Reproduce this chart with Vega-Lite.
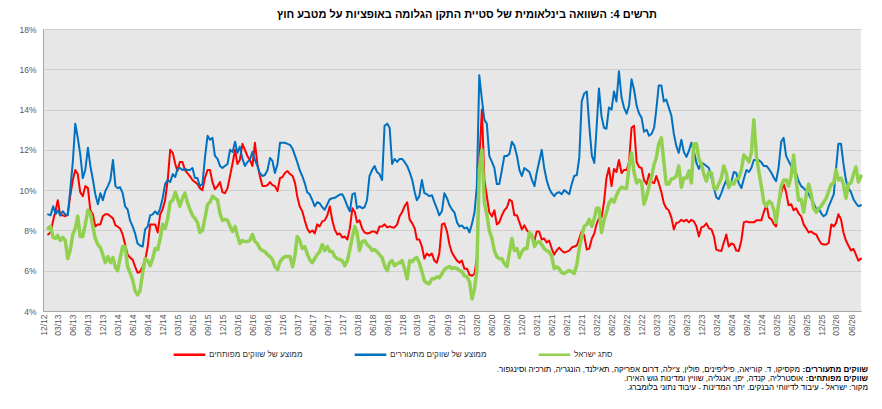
{
"$schema":"https://vega.github.io/schema/vega-lite/v6.json",
"width":818,"height":282,
"autosize":{"type":"none"},
"padding":{"left":43,"top":29,"right":21,"bottom":98},
"background":"white",
"title":{"text":"תרשים 4: השוואה בינלאומית של סטיית התקן הגלומה באופציות על מטבע חוץ","anchor":"middle","dx":15,"offset":5,"font":"Liberation Sans","fontSize":11,"fontWeight":"bold","color":"#000000"},
"config":{
"view":{"fill":"#E7E7E7","stroke":null},
"font":"Liberation Sans",
"axis":{"labelFont":"Liberation Sans","labelColor":"#595959","labelFontSize":8.5,"ticks":false,"domainColor":"#A6A6A6","gridColor":"#D0D0D0"}
},
"datasets":{
"dev":[
{"d":"2013-01-01","v":7.8},{"d":"2013-01-16","v":7.9},{"d":"2013-02-01","v":8.5},{"d":"2013-02-16","v":9.0},{"d":"2013-03-01","v":9.5},{"d":"2013-03-16","v":8.75},{"d":"2013-04-01","v":8.75},{"d":"2013-04-16","v":8.7},{"d":"2013-05-01","v":8.8},{"d":"2013-05-16","v":9.7},{"d":"2013-06-01","v":10.5},{"d":"2013-06-16","v":11.0},{"d":"2013-07-01","v":10.8},{"d":"2013-07-16","v":9.9},{"d":"2013-08-01","v":9.7},{"d":"2013-08-16","v":10.2},{"d":"2013-09-01","v":10.1},{"d":"2013-09-16","v":9.0},{"d":"2013-10-01","v":8.8},{"d":"2013-10-16","v":8.2},{"d":"2013-11-01","v":8.3},{"d":"2013-11-16","v":8.3},{"d":"2013-12-01","v":8.7},{"d":"2013-12-16","v":8.8},
{"d":"2014-01-01","v":8.8},{"d":"2014-01-16","v":8.7},{"d":"2014-02-01","v":8.6},{"d":"2014-02-16","v":8.25},{"d":"2014-03-01","v":8.2},{"d":"2014-03-16","v":8.1},{"d":"2014-04-01","v":7.8},{"d":"2014-04-16","v":7.3},{"d":"2014-05-01","v":6.8},{"d":"2014-05-16","v":6.65},{"d":"2014-06-01","v":6.55},{"d":"2014-06-16","v":6.2},{"d":"2014-07-01","v":5.9},{"d":"2014-07-16","v":5.95},{"d":"2014-08-01","v":6.2},{"d":"2014-08-16","v":6.5},{"d":"2014-09-01","v":7.2},{"d":"2014-09-16","v":8.3},{"d":"2014-10-01","v":8.3},{"d":"2014-10-16","v":8.3},{"d":"2014-11-01","v":7.9},{"d":"2014-11-16","v":8.8},{"d":"2014-12-01","v":9.05},{"d":"2014-12-16","v":9.5},
{"d":"2015-01-01","v":10.5},{"d":"2015-01-16","v":12.0},{"d":"2015-02-01","v":11.85},{"d":"2015-02-16","v":11.3},{"d":"2015-03-01","v":10.95},{"d":"2015-03-16","v":11.4},{"d":"2015-04-01","v":11.4},{"d":"2015-04-16","v":11.0},{"d":"2015-05-01","v":10.85},{"d":"2015-05-16","v":10.7},{"d":"2015-06-01","v":10.5},{"d":"2015-06-16","v":10.4},{"d":"2015-07-01","v":10.3},{"d":"2015-07-16","v":10.1},{"d":"2015-08-01","v":10.0},{"d":"2015-08-16","v":10.6},{"d":"2015-09-01","v":11.0},{"d":"2015-09-16","v":11.0},{"d":"2015-10-01","v":10.4},{"d":"2015-10-16","v":10.05},{"d":"2015-11-01","v":10.2},{"d":"2015-11-16","v":10.4},{"d":"2015-12-01","v":9.9},{"d":"2015-12-16","v":9.85},
{"d":"2016-01-01","v":10.1},{"d":"2016-01-16","v":10.7},{"d":"2016-02-01","v":11.35},{"d":"2016-02-16","v":12.0},{"d":"2016-03-01","v":11.3},{"d":"2016-03-16","v":11.5},{"d":"2016-04-01","v":12.3},{"d":"2016-04-16","v":12.0},{"d":"2016-05-01","v":11.7},{"d":"2016-05-16","v":11.5},{"d":"2016-06-01","v":11.2},{"d":"2016-06-16","v":12.35},{"d":"2016-07-01","v":11.3},{"d":"2016-07-16","v":10.7},{"d":"2016-08-01","v":10.2},{"d":"2016-08-16","v":10.2},{"d":"2016-09-01","v":10.25},{"d":"2016-09-16","v":10.4},{"d":"2016-10-01","v":10.25},{"d":"2016-10-16","v":10.2},{"d":"2016-11-01","v":9.95},{"d":"2016-11-16","v":10.6},{"d":"2016-12-01","v":10.65},{"d":"2016-12-16","v":10.85},
{"d":"2017-01-01","v":10.95},{"d":"2017-01-16","v":10.8},{"d":"2017-02-01","v":10.7},{"d":"2017-02-16","v":10.35},{"d":"2017-03-01","v":9.7},{"d":"2017-03-16","v":9.2},{"d":"2017-04-01","v":8.95},{"d":"2017-04-16","v":8.5},{"d":"2017-05-01","v":8.1},{"d":"2017-05-16","v":7.9},{"d":"2017-06-01","v":8.0},{"d":"2017-06-16","v":7.85},{"d":"2017-07-01","v":8.3},{"d":"2017-07-16","v":8.2},{"d":"2017-08-01","v":8.45},{"d":"2017-08-16","v":8.5},{"d":"2017-09-01","v":8.75},{"d":"2017-09-16","v":9.2},{"d":"2017-10-01","v":8.5},{"d":"2017-10-16","v":8.05},{"d":"2017-11-01","v":7.8},{"d":"2017-11-16","v":7.85},{"d":"2017-12-01","v":7.65},{"d":"2017-12-16","v":7.7},
{"d":"2018-01-01","v":7.55},{"d":"2018-01-16","v":8.1},{"d":"2018-02-01","v":9.1},{"d":"2018-02-16","v":8.9},{"d":"2018-03-01","v":8.4},{"d":"2018-03-16","v":8.5},{"d":"2018-04-01","v":8.1},{"d":"2018-04-16","v":7.9},{"d":"2018-05-01","v":7.85},{"d":"2018-05-16","v":7.87},{"d":"2018-06-01","v":7.95},{"d":"2018-06-16","v":7.95},{"d":"2018-07-01","v":7.85},{"d":"2018-07-16","v":8.2},{"d":"2018-08-01","v":8.2},{"d":"2018-08-16","v":8.3},{"d":"2018-09-01","v":8.15},{"d":"2018-09-16","v":8.2},{"d":"2018-10-01","v":8.15},{"d":"2018-10-16","v":8.15},{"d":"2018-11-01","v":8.3},{"d":"2018-11-16","v":8.7},{"d":"2018-12-01","v":8.9},{"d":"2018-12-16","v":9.2},
{"d":"2019-01-01","v":9.4},{"d":"2019-01-16","v":8.55},{"d":"2019-02-01","v":8.35},{"d":"2019-02-16","v":8.1},{"d":"2019-03-01","v":7.55},{"d":"2019-03-16","v":7.55},{"d":"2019-04-01","v":7.2},{"d":"2019-04-16","v":6.6},{"d":"2019-05-01","v":6.85},{"d":"2019-05-16","v":6.75},{"d":"2019-06-01","v":6.85},{"d":"2019-06-16","v":6.5},{"d":"2019-07-01","v":6.4},{"d":"2019-07-16","v":6.85},{"d":"2019-08-01","v":8.3},{"d":"2019-08-16","v":8.35},{"d":"2019-09-01","v":7.95},{"d":"2019-09-16","v":7.3},{"d":"2019-10-01","v":6.9},{"d":"2019-10-16","v":6.7},{"d":"2019-11-01","v":6.5},{"d":"2019-11-16","v":6.4},{"d":"2019-12-01","v":6.5},{"d":"2019-12-16","v":6.1},
{"d":"2020-01-01","v":6.1},{"d":"2020-01-16","v":5.8},{"d":"2020-02-01","v":5.75},{"d":"2020-02-16","v":5.85},{"d":"2020-03-01","v":6.6},{"d":"2020-03-16","v":11.5},{"d":"2020-04-01","v":14.0},{"d":"2020-04-16","v":10.5},{"d":"2020-05-01","v":9.7},{"d":"2020-05-16","v":8.9},{"d":"2020-06-01","v":8.7},{"d":"2020-06-16","v":9.0},{"d":"2020-07-01","v":8.3},{"d":"2020-07-16","v":8.4},{"d":"2020-08-01","v":8.75},{"d":"2020-08-16","v":9.0},{"d":"2020-09-01","v":9.15},{"d":"2020-09-16","v":9.53},{"d":"2020-10-01","v":9.45},{"d":"2020-10-16","v":8.75},{"d":"2020-11-01","v":8.75},{"d":"2020-11-16","v":8.4},{"d":"2020-12-01","v":8.05},{"d":"2020-12-16","v":8.25},
{"d":"2021-01-01","v":8.0},{"d":"2021-01-16","v":7.87},{"d":"2021-02-01","v":7.6},{"d":"2021-02-16","v":7.5},{"d":"2021-03-01","v":7.95},{"d":"2021-03-16","v":7.95},{"d":"2021-04-01","v":7.55},{"d":"2021-04-16","v":7.6},{"d":"2021-05-01","v":7.4},{"d":"2021-05-16","v":7.5},{"d":"2021-06-01","v":7.1},{"d":"2021-06-16","v":6.8},{"d":"2021-07-01","v":7.0},{"d":"2021-07-16","v":7.15},{"d":"2021-08-01","v":7.0},{"d":"2021-08-16","v":6.9},{"d":"2021-09-01","v":6.95},{"d":"2021-09-16","v":7.0},{"d":"2021-10-01","v":7.15},{"d":"2021-10-16","v":7.2},{"d":"2021-11-01","v":7.25},{"d":"2021-11-16","v":7.6},{"d":"2021-12-01","v":7.95},{"d":"2021-12-16","v":7.75},
{"d":"2022-01-01","v":7.05},{"d":"2022-01-16","v":7.1},{"d":"2022-02-01","v":7.6},{"d":"2022-02-16","v":7.85},{"d":"2022-03-01","v":8.3},{"d":"2022-03-16","v":8.6},{"d":"2022-04-01","v":8.65},{"d":"2022-04-16","v":9.4},{"d":"2022-05-01","v":10.6},{"d":"2022-05-16","v":11.1},{"d":"2022-06-01","v":10.2},{"d":"2022-06-16","v":11.05},{"d":"2022-07-01","v":10.9},{"d":"2022-07-16","v":11.5},{"d":"2022-08-01","v":10.85},{"d":"2022-08-16","v":11.0},{"d":"2022-09-01","v":11.0},{"d":"2022-09-16","v":11.4},{"d":"2022-10-01","v":13.1},{"d":"2022-10-16","v":13.2},{"d":"2022-11-01","v":11.4},{"d":"2022-11-16","v":11.15},{"d":"2022-12-01","v":11.1},{"d":"2022-12-16","v":10.5},
{"d":"2023-01-01","v":10.3},{"d":"2023-01-16","v":10.8},{"d":"2023-02-01","v":10.4},{"d":"2023-02-16","v":10.35},{"d":"2023-03-01","v":10.7},{"d":"2023-03-16","v":10.35},{"d":"2023-04-01","v":9.9},{"d":"2023-04-16","v":9.35},{"d":"2023-05-01","v":9.1},{"d":"2023-05-16","v":9.0},{"d":"2023-06-01","v":8.65},{"d":"2023-06-16","v":8.05},{"d":"2023-07-01","v":8.37},{"d":"2023-07-16","v":8.4},{"d":"2023-08-01","v":8.53},{"d":"2023-08-16","v":8.45},{"d":"2023-09-01","v":8.53},{"d":"2023-09-16","v":8.4},{"d":"2023-10-01","v":8.53},{"d":"2023-10-16","v":8.45},{"d":"2023-11-01","v":8.2},{"d":"2023-11-16","v":7.7},{"d":"2023-12-01","v":8.15},{"d":"2023-12-16","v":8.2},
{"d":"2024-01-01","v":8.35},{"d":"2024-01-16","v":8.1},{"d":"2024-02-01","v":8.05},{"d":"2024-02-16","v":7.7},{"d":"2024-03-01","v":7.05},{"d":"2024-03-16","v":7.0},{"d":"2024-04-01","v":6.98},{"d":"2024-04-16","v":7.4},{"d":"2024-05-01","v":7.8},{"d":"2024-05-16","v":7.2},{"d":"2024-06-01","v":7.35},{"d":"2024-06-16","v":7.3},{"d":"2024-07-01","v":7.0},{"d":"2024-07-16","v":6.98},{"d":"2024-08-01","v":7.5},{"d":"2024-08-16","v":8.4},{"d":"2024-09-01","v":8.45},{"d":"2024-09-16","v":8.4},{"d":"2024-10-01","v":8.4},{"d":"2024-10-16","v":8.4},{"d":"2024-11-01","v":8.5},{"d":"2024-11-16","v":8.5},{"d":"2024-12-01","v":8.5},{"d":"2024-12-16","v":8.9},
{"d":"2025-01-01","v":9.3},{"d":"2025-01-16","v":8.65},{"d":"2025-02-01","v":8.55},{"d":"2025-02-16","v":8.3},{"d":"2025-03-01","v":8.2},{"d":"2025-03-16","v":9.3},{"d":"2025-04-01","v":9.85},{"d":"2025-04-16","v":10.3},{"d":"2025-05-01","v":9.9},{"d":"2025-05-16","v":9.25},{"d":"2025-06-01","v":9.3},{"d":"2025-06-16","v":9.0},{"d":"2025-07-01","v":9.1},{"d":"2025-07-16","v":8.85},{"d":"2025-08-01","v":8.7},{"d":"2025-08-16","v":8.3},{"d":"2025-09-01","v":8.1},{"d":"2025-09-16","v":7.9},{"d":"2025-10-01","v":7.95},{"d":"2025-10-16","v":7.85},{"d":"2025-11-01","v":7.8},{"d":"2025-11-16","v":7.55},{"d":"2025-12-01","v":7.35},{"d":"2025-12-16","v":7.3},
{"d":"2026-01-01","v":7.3},{"d":"2026-01-16","v":7.38},{"d":"2026-02-01","v":8.3},{"d":"2026-02-16","v":8.2},{"d":"2026-03-01","v":8.35},{"d":"2026-03-16","v":8.8},{"d":"2026-04-01","v":8.55},{"d":"2026-04-16","v":7.9},{"d":"2026-05-01","v":7.5},{"d":"2026-05-16","v":7.25},{"d":"2026-06-01","v":7.0},{"d":"2026-06-16","v":7.08},{"d":"2026-07-01","v":6.8},{"d":"2026-07-16","v":6.5},{"d":"2026-08-01","v":6.6}
],
"emg":[
{"d":"2013-01-01","v":8.8},{"d":"2013-01-16","v":8.75},{"d":"2013-02-01","v":9.2},{"d":"2013-02-16","v":8.8},{"d":"2013-03-01","v":9.0},{"d":"2013-03-16","v":8.75},{"d":"2013-04-01","v":8.95},{"d":"2013-04-16","v":8.8},{"d":"2013-05-01","v":8.75},{"d":"2013-05-16","v":10.0},{"d":"2013-06-01","v":11.4},{"d":"2013-06-16","v":13.3},{"d":"2013-07-01","v":12.6},{"d":"2013-07-16","v":11.8},{"d":"2013-08-01","v":10.6},{"d":"2013-08-16","v":11.0},{"d":"2013-09-01","v":12.1},{"d":"2013-09-16","v":11.2},{"d":"2013-10-01","v":10.55},{"d":"2013-10-16","v":9.8},{"d":"2013-11-01","v":9.3},{"d":"2013-11-16","v":9.85},{"d":"2013-12-01","v":9.5},{"d":"2013-12-16","v":9.95},
{"d":"2014-01-01","v":10.2},{"d":"2014-01-16","v":10.5},{"d":"2014-02-01","v":11.5},{"d":"2014-02-16","v":10.2},{"d":"2014-03-01","v":10.1},{"d":"2014-03-16","v":10.15},{"d":"2014-04-01","v":9.85},{"d":"2014-04-16","v":9.2},{"d":"2014-05-01","v":9.05},{"d":"2014-05-16","v":8.5},{"d":"2014-06-01","v":8.2},{"d":"2014-06-16","v":7.85},{"d":"2014-07-01","v":7.35},{"d":"2014-07-16","v":7.25},{"d":"2014-08-01","v":7.2},{"d":"2014-08-16","v":8.05},{"d":"2014-09-01","v":8.2},{"d":"2014-09-16","v":8.75},{"d":"2014-10-01","v":8.8},{"d":"2014-10-16","v":8.95},{"d":"2014-11-01","v":8.8},{"d":"2014-11-16","v":9.1},{"d":"2014-12-01","v":9.6},{"d":"2014-12-16","v":10.3},
{"d":"2015-01-01","v":10.5},{"d":"2015-01-16","v":10.4},{"d":"2015-02-01","v":10.8},{"d":"2015-02-16","v":10.65},{"d":"2015-03-01","v":11.05},{"d":"2015-03-16","v":11.1},{"d":"2015-04-01","v":11.0},{"d":"2015-04-16","v":11.05},{"d":"2015-05-01","v":11.0},{"d":"2015-05-16","v":11.0},{"d":"2015-06-01","v":11.1},{"d":"2015-06-16","v":10.6},{"d":"2015-07-01","v":10.6},{"d":"2015-07-16","v":10.2},{"d":"2015-08-01","v":10.3},{"d":"2015-08-16","v":11.6},{"d":"2015-09-01","v":12.7},{"d":"2015-09-16","v":12.5},{"d":"2015-10-01","v":12.6},{"d":"2015-10-16","v":11.7},{"d":"2015-11-01","v":11.55},{"d":"2015-11-16","v":11.2},{"d":"2015-12-01","v":11.1},{"d":"2015-12-16","v":11.2},
{"d":"2016-01-01","v":11.3},{"d":"2016-01-16","v":12.0},{"d":"2016-02-01","v":11.9},{"d":"2016-02-16","v":12.4},{"d":"2016-03-01","v":11.85},{"d":"2016-03-16","v":12.15},{"d":"2016-04-01","v":11.55},{"d":"2016-04-16","v":11.2},{"d":"2016-05-01","v":11.4},{"d":"2016-05-16","v":11.5},{"d":"2016-06-01","v":11.9},{"d":"2016-06-16","v":11.5},{"d":"2016-07-01","v":11.2},{"d":"2016-07-16","v":10.85},{"d":"2016-08-01","v":10.7},{"d":"2016-08-16","v":10.75},{"d":"2016-09-01","v":11.0},{"d":"2016-09-16","v":11.6},{"d":"2016-10-01","v":11.45},{"d":"2016-10-16","v":10.85},{"d":"2016-11-01","v":11.3},{"d":"2016-11-16","v":12.35},{"d":"2016-12-01","v":12.35},{"d":"2016-12-16","v":12.35},
{"d":"2017-01-01","v":12.3},{"d":"2017-01-16","v":12.25},{"d":"2017-02-01","v":12.05},{"d":"2017-02-16","v":11.7},{"d":"2017-03-01","v":11.4},{"d":"2017-03-16","v":11.0},{"d":"2017-04-01","v":10.7},{"d":"2017-04-16","v":10.35},{"d":"2017-05-01","v":9.9},{"d":"2017-05-16","v":9.8},{"d":"2017-06-01","v":9.5},{"d":"2017-06-16","v":9.2},{"d":"2017-07-01","v":9.4},{"d":"2017-07-16","v":9.35},{"d":"2017-08-01","v":9.15},{"d":"2017-08-16","v":9.03},{"d":"2017-09-01","v":9.3},{"d":"2017-09-16","v":9.55},{"d":"2017-10-01","v":9.6},{"d":"2017-10-16","v":9.62},{"d":"2017-11-01","v":9.7},{"d":"2017-11-16","v":9.78},{"d":"2017-12-01","v":9.8},{"d":"2017-12-16","v":9.55},
{"d":"2018-01-01","v":9.2},{"d":"2018-01-16","v":8.95},{"d":"2018-02-01","v":9.8},{"d":"2018-02-16","v":9.85},{"d":"2018-03-01","v":9.1},{"d":"2018-03-16","v":9.2},{"d":"2018-04-01","v":9.1},{"d":"2018-04-16","v":9.15},{"d":"2018-05-01","v":9.5},{"d":"2018-05-16","v":10.7},{"d":"2018-06-01","v":11.0},{"d":"2018-06-16","v":11.2},{"d":"2018-07-01","v":10.9},{"d":"2018-07-16","v":10.8},{"d":"2018-08-01","v":10.5},{"d":"2018-08-16","v":13.2},{"d":"2018-09-01","v":13.3},{"d":"2018-09-16","v":13.1},{"d":"2018-10-01","v":11.3},{"d":"2018-10-16","v":11.55},{"d":"2018-11-01","v":11.4},{"d":"2018-11-16","v":11.55},{"d":"2018-12-01","v":11.55},{"d":"2018-12-16","v":11.4},
{"d":"2019-01-01","v":11.2},{"d":"2019-01-16","v":10.9},{"d":"2019-02-01","v":10.5},{"d":"2019-02-16","v":9.9},{"d":"2019-03-01","v":9.5},{"d":"2019-03-16","v":9.7},{"d":"2019-04-01","v":10.5},{"d":"2019-04-16","v":9.85},{"d":"2019-05-01","v":9.8},{"d":"2019-05-16","v":9.7},{"d":"2019-06-01","v":9.75},{"d":"2019-06-16","v":9.4},{"d":"2019-07-01","v":9.1},{"d":"2019-07-16","v":8.75},{"d":"2019-08-01","v":8.95},{"d":"2019-08-16","v":9.85},{"d":"2019-09-01","v":9.6},{"d":"2019-09-16","v":9.25},{"d":"2019-10-01","v":9.05},{"d":"2019-10-16","v":8.9},{"d":"2019-11-01","v":8.4},{"d":"2019-11-16","v":8.2},{"d":"2019-12-01","v":8.25},{"d":"2019-12-16","v":8.1},
{"d":"2020-01-01","v":8.15},{"d":"2020-01-16","v":7.9},{"d":"2020-02-01","v":8.35},{"d":"2020-02-16","v":8.9},{"d":"2020-03-01","v":10.2},{"d":"2020-03-16","v":15.7},{"d":"2020-04-01","v":14.5},{"d":"2020-04-16","v":13.5},{"d":"2020-05-01","v":13.3},{"d":"2020-05-16","v":11.7},{"d":"2020-06-01","v":11.4},{"d":"2020-06-16","v":11.1},{"d":"2020-07-01","v":10.3},{"d":"2020-07-16","v":10.3},{"d":"2020-08-01","v":11.0},{"d":"2020-08-16","v":11.7},{"d":"2020-09-01","v":11.7},{"d":"2020-09-16","v":11.8},{"d":"2020-10-01","v":12.4},{"d":"2020-10-16","v":12.2},{"d":"2020-11-01","v":11.7},{"d":"2020-11-16","v":11.0},{"d":"2020-12-01","v":10.7},{"d":"2020-12-16","v":11.1},
{"d":"2021-01-01","v":11.0},{"d":"2021-01-16","v":10.9},{"d":"2021-02-01","v":10.5},{"d":"2021-02-16","v":10.2},{"d":"2021-03-01","v":10.85},{"d":"2021-03-16","v":11.4},{"d":"2021-04-01","v":12.0},{"d":"2021-04-16","v":11.1},{"d":"2021-05-01","v":10.5},{"d":"2021-05-16","v":10.1},{"d":"2021-06-01","v":9.85},{"d":"2021-06-16","v":9.7},{"d":"2021-07-01","v":9.85},{"d":"2021-07-16","v":9.9},{"d":"2021-08-01","v":9.8},{"d":"2021-08-16","v":10.0},{"d":"2021-09-01","v":9.9},{"d":"2021-09-16","v":9.8},{"d":"2021-10-01","v":10.3},{"d":"2021-10-16","v":10.7},{"d":"2021-11-01","v":10.75},{"d":"2021-11-16","v":11.6},{"d":"2021-12-01","v":14.4},{"d":"2021-12-16","v":14.8},
{"d":"2022-01-01","v":14.9},{"d":"2022-01-16","v":13.2},{"d":"2022-02-01","v":11.7},{"d":"2022-02-16","v":11.35},{"d":"2022-03-01","v":13.0},{"d":"2022-03-16","v":15.05},{"d":"2022-04-01","v":13.65},{"d":"2022-04-16","v":13.1},{"d":"2022-05-01","v":13.05},{"d":"2022-05-16","v":14.1},{"d":"2022-06-01","v":14.0},{"d":"2022-06-16","v":14.9},{"d":"2022-07-01","v":14.4},{"d":"2022-07-16","v":15.9},{"d":"2022-08-01","v":14.6},{"d":"2022-08-16","v":14.1},{"d":"2022-09-01","v":13.8},{"d":"2022-09-16","v":14.2},{"d":"2022-10-01","v":15.5},{"d":"2022-10-16","v":15.0},{"d":"2022-11-01","v":14.2},{"d":"2022-11-16","v":13.8},{"d":"2022-12-01","v":13.6},{"d":"2022-12-16","v":12.9},
{"d":"2023-01-01","v":13.0},{"d":"2023-01-16","v":12.7},{"d":"2023-02-01","v":12.8},{"d":"2023-02-16","v":13.1},{"d":"2023-03-01","v":14.0},{"d":"2023-03-16","v":15.2},{"d":"2023-04-01","v":15.2},{"d":"2023-04-16","v":14.4},{"d":"2023-05-01","v":14.5},{"d":"2023-05-16","v":14.1},{"d":"2023-06-01","v":13.7},{"d":"2023-06-16","v":12.8},{"d":"2023-07-01","v":12.2},{"d":"2023-07-16","v":11.85},{"d":"2023-08-01","v":12.5},{"d":"2023-08-16","v":11.9},{"d":"2023-09-01","v":11.65},{"d":"2023-09-16","v":11.95},{"d":"2023-10-01","v":12.35},{"d":"2023-10-16","v":11.95},{"d":"2023-11-01","v":11.35},{"d":"2023-11-16","v":11.05},{"d":"2023-12-01","v":11.35},{"d":"2023-12-16","v":11.3},
{"d":"2024-01-01","v":11.2},{"d":"2024-01-16","v":11.1},{"d":"2024-02-01","v":10.6},{"d":"2024-02-16","v":10.1},{"d":"2024-03-01","v":9.65},{"d":"2024-03-16","v":9.55},{"d":"2024-04-01","v":9.85},{"d":"2024-04-16","v":10.2},{"d":"2024-05-01","v":10.5},{"d":"2024-05-16","v":10.1},{"d":"2024-06-01","v":10.4},{"d":"2024-06-16","v":10.9},{"d":"2024-07-01","v":10.85},{"d":"2024-07-16","v":10.35},{"d":"2024-08-01","v":10.1},{"d":"2024-08-16","v":10.55},{"d":"2024-09-01","v":11.0},{"d":"2024-09-16","v":10.9},{"d":"2024-10-01","v":11.1},{"d":"2024-10-16","v":11.5},{"d":"2024-11-01","v":11.5},{"d":"2024-11-16","v":11.48},{"d":"2024-12-01","v":11.38},{"d":"2024-12-16","v":11.2},
{"d":"2025-01-01","v":11.2},{"d":"2025-01-16","v":11.05},{"d":"2025-02-01","v":10.85},{"d":"2025-02-16","v":10.6},{"d":"2025-03-01","v":10.45},{"d":"2025-03-16","v":11.1},{"d":"2025-04-01","v":12.4},{"d":"2025-04-16","v":12.6},{"d":"2025-05-01","v":11.7},{"d":"2025-05-16","v":11.45},{"d":"2025-06-01","v":11.2},{"d":"2025-06-16","v":10.9},{"d":"2025-07-01","v":10.85},{"d":"2025-07-16","v":10.45},{"d":"2025-08-01","v":10.2},{"d":"2025-08-16","v":10.1},{"d":"2025-09-01","v":9.95},{"d":"2025-09-16","v":9.8},{"d":"2025-10-01","v":9.55},{"d":"2025-10-16","v":9.35},{"d":"2025-11-01","v":9.05},{"d":"2025-11-16","v":9.1},{"d":"2025-12-01","v":8.85},{"d":"2025-12-16","v":8.7},
{"d":"2026-01-01","v":8.8},{"d":"2026-01-16","v":9.2},{"d":"2026-02-01","v":9.5},{"d":"2026-02-16","v":9.8},{"d":"2026-03-01","v":11.0},{"d":"2026-03-16","v":12.3},{"d":"2026-04-01","v":12.3},{"d":"2026-04-16","v":11.3},{"d":"2026-05-01","v":10.5},{"d":"2026-05-16","v":10.1},{"d":"2026-06-01","v":9.9},{"d":"2026-06-16","v":9.55},{"d":"2026-07-01","v":9.36},{"d":"2026-07-16","v":9.2},{"d":"2026-08-01","v":9.25}
],
"isr":[
{"d":"2013-01-01","v":8.1},{"d":"2013-01-16","v":8.2},{"d":"2013-02-01","v":7.65},{"d":"2013-02-16","v":7.6},{"d":"2013-03-01","v":7.75},{"d":"2013-03-16","v":7.5},{"d":"2013-04-01","v":7.65},{"d":"2013-04-16","v":7.5},{"d":"2013-05-01","v":6.6},{"d":"2013-05-16","v":7.0},{"d":"2013-06-01","v":7.8},{"d":"2013-06-16","v":8.1},{"d":"2013-07-01","v":8.7},{"d":"2013-07-16","v":7.7},{"d":"2013-08-01","v":7.7},{"d":"2013-08-16","v":8.3},{"d":"2013-09-01","v":9.0},{"d":"2013-09-16","v":8.85},{"d":"2013-10-01","v":8.2},{"d":"2013-10-16","v":7.6},{"d":"2013-11-01","v":7.3},{"d":"2013-11-16","v":7.15},{"d":"2013-12-01","v":6.8},{"d":"2013-12-16","v":6.4},
{"d":"2014-01-01","v":6.7},{"d":"2014-01-16","v":6.4},{"d":"2014-02-01","v":6.65},{"d":"2014-02-16","v":6.15},{"d":"2014-03-01","v":6.0},{"d":"2014-03-16","v":6.6},{"d":"2014-04-01","v":7.2},{"d":"2014-04-16","v":7.2},{"d":"2014-05-01","v":6.2},{"d":"2014-05-16","v":5.9},{"d":"2014-06-01","v":5.55},{"d":"2014-06-16","v":5.0},{"d":"2014-07-01","v":4.8},{"d":"2014-07-16","v":5.0},{"d":"2014-08-01","v":5.9},{"d":"2014-08-16","v":6.6},{"d":"2014-09-01","v":6.5},{"d":"2014-09-16","v":6.25},{"d":"2014-10-01","v":6.6},{"d":"2014-10-16","v":7.1},{"d":"2014-11-01","v":7.05},{"d":"2014-11-16","v":7.6},{"d":"2014-12-01","v":8.3},{"d":"2014-12-16","v":8.1},
{"d":"2015-01-01","v":8.6},{"d":"2015-01-16","v":9.4},{"d":"2015-02-01","v":9.5},{"d":"2015-02-16","v":9.9},{"d":"2015-03-01","v":9.6},{"d":"2015-03-16","v":9.2},{"d":"2015-04-01","v":9.6},{"d":"2015-04-16","v":9.85},{"d":"2015-05-01","v":9.4},{"d":"2015-05-16","v":9.05},{"d":"2015-06-01","v":8.75},{"d":"2015-06-16","v":8.6},{"d":"2015-07-01","v":8.4},{"d":"2015-07-16","v":7.9},{"d":"2015-08-01","v":8.0},{"d":"2015-08-16","v":8.6},{"d":"2015-09-01","v":9.3},{"d":"2015-09-16","v":9.4},{"d":"2015-10-01","v":9.7},{"d":"2015-10-16","v":9.6},{"d":"2015-11-01","v":9.5},{"d":"2015-11-16","v":8.85},{"d":"2015-12-01","v":8.5},{"d":"2015-12-16","v":8.55},
{"d":"2016-01-01","v":8.5},{"d":"2016-01-16","v":8.2},{"d":"2016-02-01","v":7.95},{"d":"2016-02-16","v":8.2},{"d":"2016-03-01","v":7.75},{"d":"2016-03-16","v":7.35},{"d":"2016-04-01","v":7.5},{"d":"2016-04-16","v":7.45},{"d":"2016-05-01","v":7.45},{"d":"2016-05-16","v":7.5},{"d":"2016-06-01","v":7.8},{"d":"2016-06-16","v":7.45},{"d":"2016-07-01","v":7.35},{"d":"2016-07-16","v":7.1},{"d":"2016-08-01","v":7.0},{"d":"2016-08-16","v":6.95},{"d":"2016-09-01","v":6.8},{"d":"2016-09-16","v":6.7},{"d":"2016-10-01","v":6.55},{"d":"2016-10-16","v":6.2},{"d":"2016-11-01","v":6.05},{"d":"2016-11-16","v":6.45},{"d":"2016-12-01","v":6.6},{"d":"2016-12-16","v":6.7},
{"d":"2017-01-01","v":6.7},{"d":"2017-01-16","v":6.7},{"d":"2017-02-01","v":6.2},{"d":"2017-02-16","v":6.8},{"d":"2017-03-01","v":7.7},{"d":"2017-03-16","v":7.5},{"d":"2017-04-01","v":7.1},{"d":"2017-04-16","v":7.2},{"d":"2017-05-01","v":6.85},{"d":"2017-05-16","v":6.55},{"d":"2017-06-01","v":6.4},{"d":"2017-06-16","v":6.6},{"d":"2017-07-01","v":6.8},{"d":"2017-07-16","v":6.95},{"d":"2017-08-01","v":7.3},{"d":"2017-08-16","v":7.0},{"d":"2017-09-01","v":7.2},{"d":"2017-09-16","v":6.95},{"d":"2017-10-01","v":6.95},{"d":"2017-10-16","v":6.7},{"d":"2017-11-01","v":6.6},{"d":"2017-11-16","v":6.55},{"d":"2017-12-01","v":6.5},{"d":"2017-12-16","v":6.25},
{"d":"2018-01-01","v":6.5},{"d":"2018-01-16","v":7.05},{"d":"2018-02-01","v":7.7},{"d":"2018-02-16","v":8.2},{"d":"2018-03-01","v":7.9},{"d":"2018-03-16","v":7.0},{"d":"2018-04-01","v":7.45},{"d":"2018-04-16","v":7.5},{"d":"2018-05-01","v":7.3},{"d":"2018-05-16","v":7.2},{"d":"2018-06-01","v":7.0},{"d":"2018-06-16","v":7.05},{"d":"2018-07-01","v":6.95},{"d":"2018-07-16","v":6.8},{"d":"2018-08-01","v":6.65},{"d":"2018-08-16","v":6.25},{"d":"2018-09-01","v":6.0},{"d":"2018-09-16","v":6.4},{"d":"2018-10-01","v":6.5},{"d":"2018-10-16","v":6.25},{"d":"2018-11-01","v":6.35},{"d":"2018-11-16","v":6.4},{"d":"2018-12-01","v":6.5},{"d":"2018-12-16","v":6.1},
{"d":"2019-01-01","v":5.6},{"d":"2019-01-16","v":6.5},{"d":"2019-02-01","v":6.45},{"d":"2019-02-16","v":6.6},{"d":"2019-03-01","v":6.65},{"d":"2019-03-16","v":6.4},{"d":"2019-04-01","v":5.95},{"d":"2019-04-16","v":5.5},{"d":"2019-05-01","v":5.4},{"d":"2019-05-16","v":5.35},{"d":"2019-06-01","v":5.6},{"d":"2019-06-16","v":5.6},{"d":"2019-07-01","v":5.7},{"d":"2019-07-16","v":5.65},{"d":"2019-08-01","v":5.85},{"d":"2019-08-16","v":6.05},{"d":"2019-09-01","v":6.15},{"d":"2019-09-16","v":6.2},{"d":"2019-10-01","v":6.1},{"d":"2019-10-16","v":6.15},{"d":"2019-11-01","v":6.1},{"d":"2019-11-16","v":6.0},{"d":"2019-12-01","v":5.95},{"d":"2019-12-16","v":5.75},
{"d":"2020-01-01","v":5.7},{"d":"2020-01-16","v":5.45},{"d":"2020-02-01","v":4.6},{"d":"2020-02-16","v":5.1},{"d":"2020-03-01","v":6.0},{"d":"2020-03-16","v":11.0},{"d":"2020-04-01","v":12.0},{"d":"2020-04-16","v":9.4},{"d":"2020-05-01","v":8.8},{"d":"2020-05-16","v":8.0},{"d":"2020-06-01","v":7.6},{"d":"2020-06-16","v":7.0},{"d":"2020-07-01","v":6.7},{"d":"2020-07-16","v":6.6},{"d":"2020-08-01","v":6.6},{"d":"2020-08-16","v":6.35},{"d":"2020-09-01","v":6.2},{"d":"2020-09-16","v":6.9},{"d":"2020-10-01","v":7.6},{"d":"2020-10-16","v":7.0},{"d":"2020-11-01","v":7.1},{"d":"2020-11-16","v":6.65},{"d":"2020-12-01","v":6.95},{"d":"2020-12-16","v":7.1},
{"d":"2021-01-01","v":7.1},{"d":"2021-01-16","v":7.9},{"d":"2021-02-01","v":7.75},{"d":"2021-02-16","v":7.2},{"d":"2021-03-01","v":7.4},{"d":"2021-03-16","v":7.45},{"d":"2021-04-01","v":7.3},{"d":"2021-04-16","v":7.1},{"d":"2021-05-01","v":7.0},{"d":"2021-05-16","v":6.95},{"d":"2021-06-01","v":6.7},{"d":"2021-06-16","v":6.1},{"d":"2021-07-01","v":6.2},{"d":"2021-07-16","v":6.1},{"d":"2021-08-01","v":5.9},{"d":"2021-08-16","v":5.85},{"d":"2021-09-01","v":5.95},{"d":"2021-09-16","v":6.0},{"d":"2021-10-01","v":5.95},{"d":"2021-10-16","v":5.85},{"d":"2021-11-01","v":6.3},{"d":"2021-11-16","v":7.1},{"d":"2021-12-01","v":7.7},{"d":"2021-12-16","v":8.2},
{"d":"2022-01-01","v":8.3},{"d":"2022-01-16","v":8.55},{"d":"2022-02-01","v":8.2},{"d":"2022-02-16","v":8.6},{"d":"2022-03-01","v":9.1},{"d":"2022-03-16","v":9.1},{"d":"2022-04-01","v":7.9},{"d":"2022-04-16","v":8.5},{"d":"2022-05-01","v":8.9},{"d":"2022-05-16","v":9.35},{"d":"2022-06-01","v":9.55},{"d":"2022-06-16","v":9.4},{"d":"2022-07-01","v":9.75},{"d":"2022-07-16","v":10.0},{"d":"2022-08-01","v":10.15},{"d":"2022-08-16","v":10.1},{"d":"2022-09-01","v":10.1},{"d":"2022-09-16","v":11.2},{"d":"2022-10-01","v":11.85},{"d":"2022-10-16","v":10.9},{"d":"2022-11-01","v":10.35},{"d":"2022-11-16","v":10.5},{"d":"2022-12-01","v":10.4},{"d":"2022-12-16","v":9.3},
{"d":"2023-01-01","v":9.7},{"d":"2023-01-16","v":10.2},{"d":"2023-02-01","v":10.7},{"d":"2023-02-16","v":11.3},{"d":"2023-03-01","v":11.6},{"d":"2023-03-16","v":12.3},{"d":"2023-04-01","v":12.6},{"d":"2023-04-16","v":11.4},{"d":"2023-05-01","v":10.3},{"d":"2023-05-16","v":10.3},{"d":"2023-06-01","v":10.55},{"d":"2023-06-16","v":10.6},{"d":"2023-07-01","v":10.7},{"d":"2023-07-16","v":11.2},{"d":"2023-08-01","v":10.15},{"d":"2023-08-16","v":10.6},{"d":"2023-09-01","v":10.6},{"d":"2023-09-16","v":10.95},{"d":"2023-10-01","v":10.35},{"d":"2023-10-16","v":12.3},{"d":"2023-11-01","v":12.3},{"d":"2023-11-16","v":11.55},{"d":"2023-12-01","v":11.3},{"d":"2023-12-16","v":10.8},
{"d":"2024-01-01","v":10.45},{"d":"2024-01-16","v":10.9},{"d":"2024-02-01","v":10.85},{"d":"2024-02-16","v":10.1},{"d":"2024-03-01","v":10.05},{"d":"2024-03-16","v":10.3},{"d":"2024-04-01","v":10.6},{"d":"2024-04-16","v":11.2},{"d":"2024-05-01","v":10.85},{"d":"2024-05-16","v":10.15},{"d":"2024-06-01","v":10.4},{"d":"2024-06-16","v":10.3},{"d":"2024-07-01","v":10.55},{"d":"2024-07-16","v":10.6},{"d":"2024-08-01","v":11.0},{"d":"2024-08-16","v":11.75},{"d":"2024-09-01","v":11.6},{"d":"2024-09-16","v":11.4},{"d":"2024-10-01","v":11.85},{"d":"2024-10-16","v":13.5},{"d":"2024-11-01","v":11.7},{"d":"2024-11-16","v":10.9},{"d":"2024-12-01","v":10.2},{"d":"2024-12-16","v":9.4},
{"d":"2025-01-01","v":9.2},{"d":"2025-01-16","v":9.45},{"d":"2025-02-01","v":9.35},{"d":"2025-02-16","v":9.0},{"d":"2025-03-01","v":8.4},{"d":"2025-03-16","v":9.3},{"d":"2025-04-01","v":10.2},{"d":"2025-04-16","v":10.5},{"d":"2025-05-01","v":10.5},{"d":"2025-05-16","v":10.2},{"d":"2025-06-01","v":10.7},{"d":"2025-06-16","v":11.75},{"d":"2025-07-01","v":10.5},{"d":"2025-07-16","v":9.5},{"d":"2025-08-01","v":9.55},{"d":"2025-08-16","v":8.9},{"d":"2025-09-01","v":9.8},{"d":"2025-09-16","v":10.3},{"d":"2025-10-01","v":9.8},{"d":"2025-10-16","v":9.1},{"d":"2025-11-01","v":8.9},{"d":"2025-11-16","v":9.1},{"d":"2025-12-01","v":9.2},{"d":"2025-12-16","v":9.4},
{"d":"2026-01-01","v":9.6},{"d":"2026-01-16","v":9.95},{"d":"2026-02-01","v":10.3},{"d":"2026-02-16","v":10.35},{"d":"2026-03-01","v":11.0},{"d":"2026-03-16","v":10.5},{"d":"2026-04-01","v":10.6},{"d":"2026-04-16","v":10.3},{"d":"2026-05-01","v":9.6},{"d":"2026-05-16","v":10.3},{"d":"2026-06-01","v":10.35},{"d":"2026-06-16","v":10.8},{"d":"2026-07-01","v":11.15},{"d":"2026-07-16","v":10.4},{"d":"2026-08-01","v":10.7}
]
},
"encoding":{
"x":{"field":"d","type":"temporal","title":null,
"scale":{"type":"utc","domain":[{"year":2012,"month":12,"date":1,"utc":true},{"year":2026,"month":8,"date":1,"utc":true}]},
"axis":{"labelExpr":"utcFormat(datum.value, '%m/%y')","labelAngle":-90,"labelPadding":3,"labelOverlap":false,"labelFlush":false,"labelFontSize":8.5,"grid":false,
"values":[{"year":2012,"month":12,"date":1,"utc":true},
{"year":2013,"month":3,"date":1,"utc":true},{"year":2013,"month":6,"date":1,"utc":true},{"year":2013,"month":9,"date":1,"utc":true},{"year":2013,"month":12,"date":1,"utc":true},
{"year":2014,"month":3,"date":1,"utc":true},{"year":2014,"month":6,"date":1,"utc":true},{"year":2014,"month":9,"date":1,"utc":true},{"year":2014,"month":12,"date":1,"utc":true},
{"year":2015,"month":3,"date":1,"utc":true},{"year":2015,"month":6,"date":1,"utc":true},{"year":2015,"month":9,"date":1,"utc":true},{"year":2015,"month":12,"date":1,"utc":true},
{"year":2016,"month":3,"date":1,"utc":true},{"year":2016,"month":6,"date":1,"utc":true},{"year":2016,"month":9,"date":1,"utc":true},{"year":2016,"month":12,"date":1,"utc":true},
{"year":2017,"month":3,"date":1,"utc":true},{"year":2017,"month":6,"date":1,"utc":true},{"year":2017,"month":9,"date":1,"utc":true},{"year":2017,"month":12,"date":1,"utc":true},
{"year":2018,"month":3,"date":1,"utc":true},{"year":2018,"month":6,"date":1,"utc":true},{"year":2018,"month":9,"date":1,"utc":true},{"year":2018,"month":12,"date":1,"utc":true},
{"year":2019,"month":3,"date":1,"utc":true},{"year":2019,"month":6,"date":1,"utc":true},{"year":2019,"month":9,"date":1,"utc":true},{"year":2019,"month":12,"date":1,"utc":true},
{"year":2020,"month":3,"date":1,"utc":true},{"year":2020,"month":6,"date":1,"utc":true},{"year":2020,"month":9,"date":1,"utc":true},{"year":2020,"month":12,"date":1,"utc":true},
{"year":2021,"month":3,"date":1,"utc":true},{"year":2021,"month":6,"date":1,"utc":true},{"year":2021,"month":9,"date":1,"utc":true},{"year":2021,"month":12,"date":1,"utc":true},
{"year":2022,"month":3,"date":1,"utc":true},{"year":2022,"month":6,"date":1,"utc":true},{"year":2022,"month":9,"date":1,"utc":true},{"year":2022,"month":12,"date":1,"utc":true},
{"year":2023,"month":3,"date":1,"utc":true},{"year":2023,"month":6,"date":1,"utc":true},{"year":2023,"month":9,"date":1,"utc":true},{"year":2023,"month":12,"date":1,"utc":true},
{"year":2024,"month":3,"date":1,"utc":true},{"year":2024,"month":6,"date":1,"utc":true},{"year":2024,"month":9,"date":1,"utc":true},{"year":2024,"month":12,"date":1,"utc":true},
{"year":2025,"month":3,"date":1,"utc":true},{"year":2025,"month":6,"date":1,"utc":true},{"year":2025,"month":9,"date":1,"utc":true},{"year":2025,"month":12,"date":1,"utc":true},
{"year":2026,"month":3,"date":1,"utc":true},{"year":2026,"month":6,"date":1,"utc":true}]}},
"y":{"field":"v","type":"quantitative","title":null,
"scale":{"domain":[4,18],"nice":false,"zero":false},
"axis":{"values":[4,6,8,10,12,14,16,18],"labelExpr":"datum.value + '%'","labelPadding":7,"grid":true,"labelFontSize":8.5}}
},
"layer":[
{"data":{"name":"dev"},"mark":{"type":"line","strokeWidth":2,"strokeJoin":"round","strokeCap":"round"},
"encoding":{"color":{"datum":"ממוצע של שווקים מפותחים","type":"nominal",
"scale":{"domain":["ממוצע של שווקים מפותחים","ממוצע של שווקים מתעוררים","סתג ישראל"],"range":["#FF0000","#0070C0","#92D050"]},
"legend":{"orient":"none","legendX":129,"legendY":308,"direction":"horizontal","title":null,"symbolType":"stroke","symbolSize":1000,"symbolStrokeWidth":2.5,"labelFont":"Liberation Sans","labelFontSize":8.2,"labelColor":"#333333","labelOffset":2,"columnPadding":46}}}},
{"data":{"name":"emg"},"mark":{"type":"line","strokeWidth":2,"strokeJoin":"round","strokeCap":"round"},
"encoding":{"color":{"datum":"ממוצע של שווקים מתעוררים","type":"nominal"}}},
{"data":{"name":"isr"},"mark":{"type":"line","strokeWidth":3.5,"strokeJoin":"round","strokeCap":"round"},
"encoding":{"color":{"datum":"סתג ישראל","type":"nominal"}}},
{"data":{"values":[{"t":"שווקים מתעוררים:\u200f"}]},"mark":{"type":"text","align":"right","baseline":"middle","font":"Liberation Sans","fontSize":8,"fontWeight":"bold","color":"#000000","dx":7,"dy":59},
"encoding":{"x":{"value":"width"},"y":{"value":"height"},"text":{"field":"t"}}},
{"data":{"values":[{"t":"מקסיקו, ד. קוריאה, פיליפינים, פולין, צ'ילה, דרום אפריקה, תאילנד, הונגריה, תורכיה וסינגפור.\u200f"}]},"mark":{"type":"text","align":"right","baseline":"middle","font":"Liberation Sans","fontSize":8,"color":"#000000","dx":-61,"dy":59},
"encoding":{"x":{"value":"width"},"y":{"value":"height"},"text":{"field":"t"}}},
{"data":{"values":[{"t":"שווקים מפותחים:\u200f"}]},"mark":{"type":"text","align":"right","baseline":"middle","font":"Liberation Sans","fontSize":8,"fontWeight":"bold","color":"#000000","dx":7,"dy":68},
"encoding":{"x":{"value":"width"},"y":{"value":"height"},"text":{"field":"t"}}},
{"data":{"values":[{"t":"אוסטרליה, קנדה, יפן, אנגליה, שוויץ ומדינות גוש האירו.\u200f"}]},"mark":{"type":"text","align":"right","baseline":"middle","font":"Liberation Sans","fontSize":8,"color":"#000000","dx":-58,"dy":68},
"encoding":{"x":{"value":"width"},"y":{"value":"height"},"text":{"field":"t"}}},
{"data":{"values":[{"t":"מקור: ישראל - עיבוד לדיווחי הבנקים. יתר המדינות - עיבוד נתוני בלומברג.\u200f"}]},"mark":{"type":"text","align":"right","baseline":"middle","font":"Liberation Sans","fontSize":8,"color":"#000000","dx":7,"dy":77},
"encoding":{"x":{"value":"width"},"y":{"value":"height"},"text":{"field":"t"}}}
]
}
